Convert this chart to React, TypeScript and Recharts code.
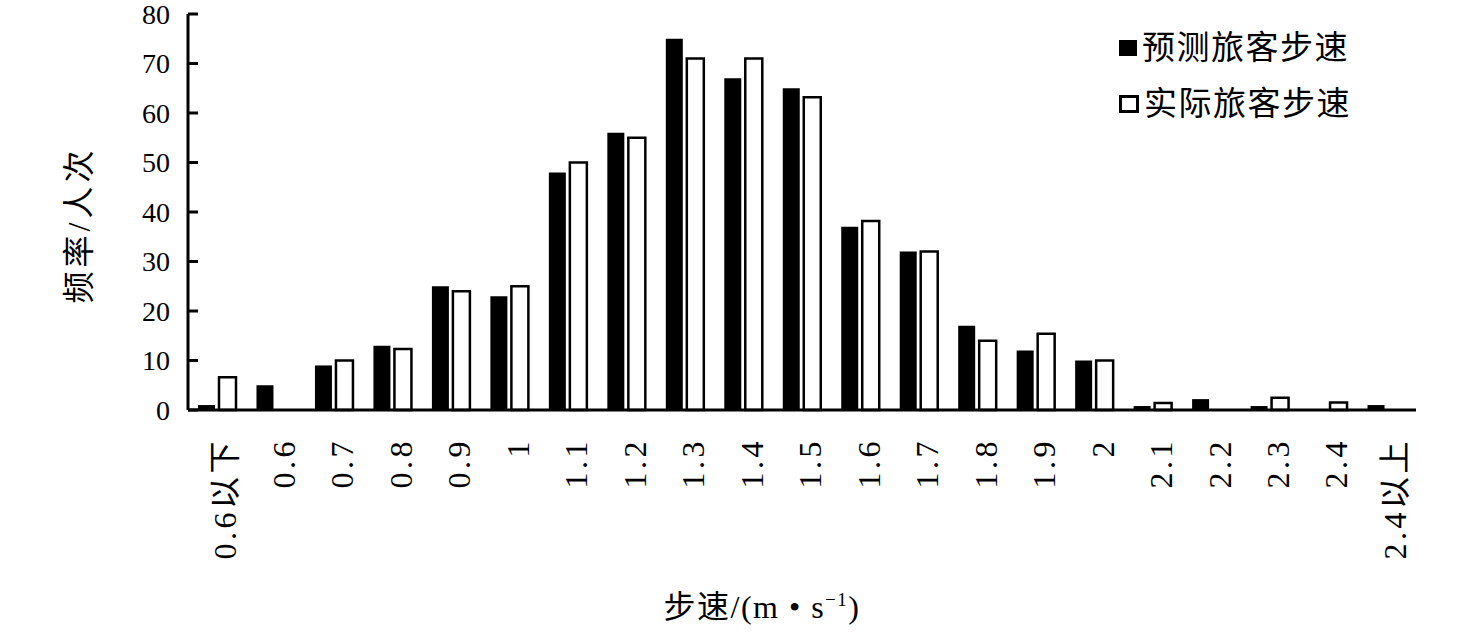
import { BarChart, Bar, XAxis, YAxis } from 'recharts';

const categories = ['0.6以下', '0.6', '0.7', '0.8', '0.9', '1', '1.1', '1.2', '1.3', '1.4', '1.5', '1.6', '1.7', '1.8', '1.9', '2', '2.1', '2.2', '2.3', '2.4', '2.4以上'];
const predicted = [1, 5, 9, 13, 25, 23, 48, 56, 75, 67, 65, 37, 32, 17, 12, 10, 0.8, 2.2, 0.8, 0, 1];
const actual = [6.6, 0, 10, 12.3, 24, 25, 50, 55, 71, 71, 63.2, 38.2, 32, 14, 15.4, 10, 1.4, 0, 2.5, 1.5, 0];
const yTicks = [0, 10, 20, 30, 40, 50, 60, 70, 80];
const seriesNames = ['预测旅客步速', '实际旅客步速'];

const data = categories.map((c, i) => ({ name: c, pred: predicted[i], real: actual[i] }));

const FONT = "'Liberation Serif', 'Noto Sans CJK SC', serif";

const XTick = (props: any) => {
    const { x, y, payload } = props;
    const ty = y + 20;
    return (
        <text
            x={x}
            y={ty}
            transform={`rotate(-90 ${x} ${ty})`}
            textAnchor="end"
            dy="0.6em"
            fontSize={32}
            letterSpacing={3.5}
            fontFamily={FONT}
            fill="#000"
        >
            {payload.value}
        </text>
    );
};

// legend drawn by hand, the reference has it tucked inside the plot at the top right
const LegendBox = () => (
    <div
        style={{
            position: 'absolute',
            left: 1119,
            top: 20,
            fontFamily: FONT,
            fontSize: 33,
            letterSpacing: 1.5,
            color: '#000',
            lineHeight: '56px',
        }}
    >
        <div style={{ display: 'flex', alignItems: 'center' }}>
            <span style={{ width: 18, height: 16, background: '#000', display: 'inline-block', marginRight: 5 }} />
            {seriesNames[0]}
        </div>
        <div style={{ display: 'flex', alignItems: 'center' }}>
            <span style={{ width: 14, height: 12, border: '3px solid #000', background: '#fff', display: 'inline-block', marginRight: 5 }} />
            {seriesNames[1]}
        </div>
    </div>
);

export default function App() {
    return (
        <div style={{ position: 'absolute', left: 0, top: 0, width: 1465, height: 638, background: '#fff' }}>
            <BarChart
                width={1465}
                height={638}
                data={data}
                margin={{ top: 14, right: 49, bottom: 198, left: 88 }}
                barSize={17}
                barGap={4}
            >
                <XAxis
                    dataKey="name"
                    height={30}
                    axisLine={{ stroke: '#000', strokeWidth: 3 }}
                    tickLine={false}
                    tick={<XTick />}
                    interval={0}
                    label={{
                        content: () => (
                            <text x={762} y={618} textAnchor="middle" fontSize={32} letterSpacing={1.5} fontFamily={FONT} fill="#000">
                                步速/(m • s
                                <tspan dy={-12} fontSize={19}>−1</tspan>
                                <tspan dy={12}>)</tspan>
                            </text>
                        ),
                    }}
                />
                <YAxis
                    width={100}
                    domain={[0, 80]}
                    ticks={yTicks}
                    interval={0}
                    axisLine={{ stroke: '#000', strokeWidth: 3 }}
                    tickLine={{ stroke: '#000', strokeWidth: 3 }}
                    tickSize={-10}
                    tickMargin={28}
                    tick={{ fill: '#000', fontSize: 28, fontFamily: FONT }}
                    label={{
                        content: () => (
                            <text
                                x={79}
                                y={225}
                                transform="rotate(-90 79 225)"
                                textAnchor="middle"
                                dominantBaseline="central"
                                fontSize={32}
                                letterSpacing={4}
                                fontFamily={FONT}
                                fill="#000"
                            >
                                频率/人次
                            </text>
                        ),
                    }}
                />
                <Bar dataKey="pred" name={seriesNames[0]} fill="#000" isAnimationActive={false} />
                <Bar dataKey="real" name={seriesNames[1]} fill="#fff" stroke="#000" strokeWidth={2.5} isAnimationActive={false} />
            </BarChart>
            <LegendBox />
        </div>
    );
}
